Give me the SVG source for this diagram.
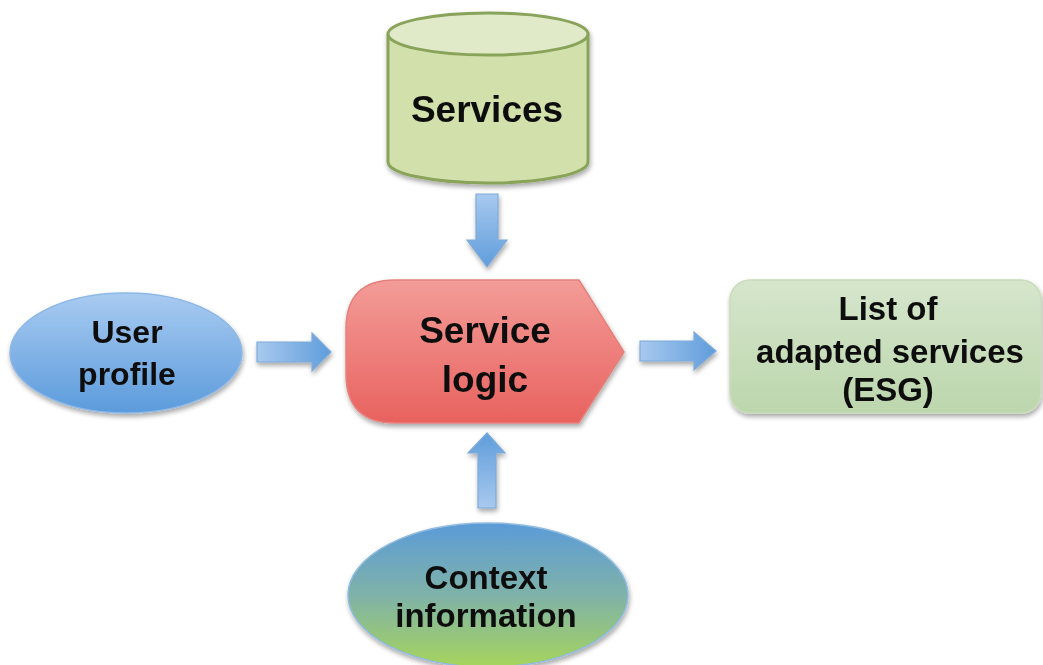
<svg xmlns="http://www.w3.org/2000/svg" width="1043" height="665" viewBox="0 0 1043 665">
  <defs>
    <filter id="shadow" x="-10%" y="-10%" width="125%" height="130%">
      <feGaussianBlur in="SourceAlpha" stdDeviation="2.5"/>
      <feOffset dx="1" dy="3" result="b"/>
      <feComponentTransfer><feFuncA type="linear" slope="0.35"/></feComponentTransfer>
      <feMerge><feMergeNode/><feMergeNode in="SourceGraphic"/></feMerge>
    </filter>
    <linearGradient id="gBlue" x1="0" y1="0" x2="0" y2="1">
      <stop offset="0" stop-color="#a9cbf1"/>
      <stop offset="1" stop-color="#5b9bdc"/>
    </linearGradient>
    <linearGradient id="gRed" x1="0" y1="0" x2="0" y2="1">
      <stop offset="0" stop-color="#f39c98"/>
      <stop offset="1" stop-color="#e8625f"/>
    </linearGradient>
    <linearGradient id="gCtx" x1="0" y1="0" x2="0" y2="1">
      <stop offset="0" stop-color="#5b9bd8"/>
      <stop offset="0.5" stop-color="#7fb2a8"/>
      <stop offset="1" stop-color="#a6d45c"/>
    </linearGradient>
    <linearGradient id="gList" x1="0" y1="0" x2="0" y2="1">
      <stop offset="0" stop-color="#d6e6cc"/>
      <stop offset="1" stop-color="#bcd6ad"/>
    </linearGradient>
    <linearGradient id="gArrowH" x1="0" y1="0" x2="1" y2="0">
      <stop offset="0" stop-color="#a8c9ef"/>
      <stop offset="1" stop-color="#5f9ddb"/>
    </linearGradient>
    <linearGradient id="gArrowV" x1="0" y1="0" x2="0" y2="1">
      <stop offset="0" stop-color="#a8c9ef"/>
      <stop offset="1" stop-color="#5f9ddb"/>
    </linearGradient>
    <linearGradient id="gArrowUp" x1="0" y1="1" x2="0" y2="0">
      <stop offset="0" stop-color="#a8c9ef"/>
      <stop offset="1" stop-color="#5f9ddb"/>
    </linearGradient>
  </defs>
  <style>
    .lbl { font-family: "Liberation Sans", Arial, sans-serif; font-weight: bold; fill: #111; text-anchor: middle; }
    .arrow { stroke: #7faad8; stroke-width: 1.2; filter: url(#shadow); }
  </style>

  <rect width="1043" height="665" fill="#ffffff"/>

  <g id="connectors">
    <!-- Services -> Service logic -->
    <path class="arrow" fill="url(#gArrowV)" d="M476,194 H498 V240 H507 L487,267 L467,240 H476 Z"/>
    <!-- User profile -> Service logic -->
    <path class="arrow" fill="url(#gArrowH)" d="M257,342 H312 V333 L331,352 L312,371 V362 H257 Z"/>
    <!-- Service logic -> List -->
    <path class="arrow" fill="url(#gArrowH)" d="M640,341 H694 V332 L716,351 L694,370 V361 H640 Z"/>
    <!-- Context information -> Service logic -->
    <path class="arrow" fill="url(#gArrowUp)" d="M478,508 H496 V453 H505 L487,433 L468,453 H478 Z"/>
  </g>

  <g id="services" filter="url(#shadow)">
    <path d="M388,34 V162 A100,21 0 0 0 588,162 V34" fill="#d2e1ab" stroke="#8aa35a" stroke-width="3"/>
    <ellipse cx="488" cy="34" rx="100" ry="21" fill="#e0eac8" stroke="#8aa35a" stroke-width="3"/>
    <text class="lbl" x="487" y="122" font-size="37">Services</text>
  </g>

  <g id="user-profile" filter="url(#shadow)">
    <ellipse cx="126" cy="353" rx="116" ry="60" fill="url(#gBlue)" stroke="#8db8e6" stroke-width="1.5"/>
    <text class="lbl" x="127" y="343" font-size="32">User</text>
    <text class="lbl" x="127" y="385" font-size="32">profile</text>
  </g>

  <g id="service-logic" filter="url(#shadow)">
    <path d="M395,280 H579 L624,352 L579,423 H395 Q346,423 346,374 V329 Q346,280 395,280 Z" fill="url(#gRed)" stroke="#e5817c" stroke-width="1.5"/>
    <text class="lbl" x="485" y="343" font-size="37">Service</text>
    <text class="lbl" x="485" y="392" font-size="37">logic</text>
  </g>

  <g id="adapted-services" filter="url(#shadow)">
    <rect x="730" y="280" width="311" height="133" rx="20" fill="url(#gList)" stroke="#c9dcbc" stroke-width="1.5"/>
    <text class="lbl" x="888" y="320" font-size="33">List of</text>
    <text class="lbl" x="890" y="363" font-size="33">adapted services</text>
    <text class="lbl" x="888" y="401" font-size="33">(ESG)</text>
  </g>

  <g id="context-information" filter="url(#shadow)">
    <ellipse cx="488" cy="595" rx="140" ry="72" fill="url(#gCtx)" stroke="#8fbbe0" stroke-width="1.5"/>
    <text class="lbl" x="486" y="589" font-size="33">Context</text>
    <text class="lbl" x="486" y="627" font-size="33">information</text>
  </g>
</svg>
